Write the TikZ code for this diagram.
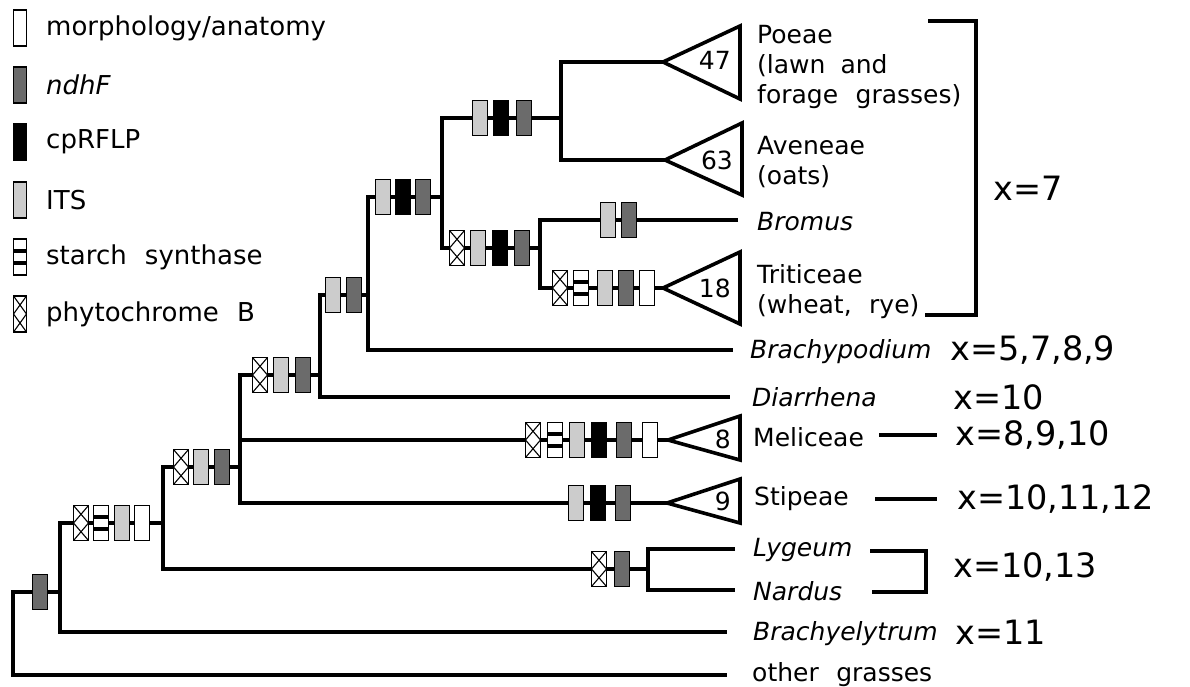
\documentclass[tikz,border=0pt]{standalone}
\usepackage{fontspec}
\setmainfont{DejaVu Sans}
\begin{document}
\begin{tikzpicture}[x=1pt,y=-1pt,
  br/.style={line width=3.8pt, line join=miter},
  tri/.style={line width=3.6pt, line join=miter},
  mk/.style={draw, line width=1.7pt, minimum width=15pt, minimum height=35pt, inner sep=0pt, outer sep=0pt},
  mkmorph/.style={mk, fill=white},
  mkndhf/.style={mk, fill=black!58},
  mkcp/.style={mk, fill=black},
  mkits/.style={mk, fill=black!20},
  mkstarch/.style={mk, fill=white, path picture={
      \fill[black] ([yshift=-8.2pt]path picture bounding box.west) rectangle ([yshift=-3.6pt]path picture bounding box.east);
      \fill[black] ([yshift=3.6pt]path picture bounding box.west) rectangle ([yshift=8.2pt]path picture bounding box.east);}},
  mkphy/.style={mk, fill=white, path picture={
      \draw[line width=1.1pt] (path picture bounding box.north west) -- (path picture bounding box.east) -- (path picture bounding box.south west);
      \draw[line width=1.1pt] (path picture bounding box.north east) -- (path picture bounding box.west) -- (path picture bounding box.south east);}},
  lab/.style={font=\fontsize{25}{30}\selectfont, inner sep=0pt, align=left},
  leg/.style={font=\fontsize{26}{30}\selectfont, inner sep=0pt},
  ilab/.style={lab, font=\fontsize{25}{30}\selectfont\itshape},
  xl/.style={font=\fontsize{33.5}{36}\selectfont, inner sep=0pt},
  num/.style={font=\fontsize{25}{30}\selectfont, inner sep=0pt, anchor=east}]
\useasboundingbox (0,0) rectangle (1190,686);

% ---------- legend ----------
\foreach \s/\y/\t [count=\i] in {mkmorph/28/morphology\slash anatomy, mkndhf/85/\textit{ndhF}, mkcp/142/cpRFLP, mkits/200/ITS, mkstarch/257/starch\hspace{0.7em}synthase, mkphy/314/phytochrome\hspace{0.7em}B}{
  \node[\s, minimum width=13pt, minimum height=36pt] (lg\i) at (20,\y) {};
  \node[leg, anchor=west] (lt\i) at (46,\y) {\t};
}

% ---------- internal nodes and tips ----------
\coordinate (r0t) at (13,592);
\coordinate (othertip) at (727,675);
\coordinate (n1) at (60,592);   \coordinate (n1t) at (60,523);
\coordinate (bytip) at (727,632);
\coordinate (n2) at (163,523);  \coordinate (n2t) at (163,467);
\coordinate (nln) at (648,569); \coordinate (nlnt) at (648,549);
\coordinate (lygtip) at (735,549); \coordinate (nardtip) at (735,590);
\coordinate (n3) at (240,467);  \coordinate (n3t) at (240,375); \coordinate (n3m) at (240,440);
\coordinate (meliapex) at (668,440); \coordinate (stiapex) at (667,503);
\coordinate (n4) at (320,375);  \coordinate (n4t) at (320,295);
\coordinate (diartip) at (730,397);
\coordinate (n5) at (368,295);  \coordinate (n5t) at (368,197);
\coordinate (brachytip) at (733,350);
\coordinate (n6) at (442,197);  \coordinate (n6t) at (442,118);
\coordinate (n7) at (540,248);  \coordinate (n7t) at (540,220);
\coordinate (bromtip) at (738,220); \coordinate (tritapex) at (663,288);
\coordinate (n8) at (561,118);  \coordinate (n8t) at (561,62);
\coordinate (poeapex) at (663,62); \coordinate (aveapex) at (665,160);

% ---------- branches ----------
\draw[br] (n1) -- (r0t) |- (othertip);
\draw[br] (n2) -- (n1t) |- (bytip);
\draw[br] (n3) -- (n2t) |- (nln);
\draw[br] (lygtip) -- (nlnt) |- (nardtip);
\draw[br] (n4) -- (n3t) |- (stiapex);
\draw[br] (n3m) -- (meliapex);
\draw[br] (n5) -- (n4t) |- (diartip);
\draw[br] (n6) -- (n5t) |- (brachytip);
\draw[br] (n8) -- (n6t) |- (n7);
\draw[br] (bromtip) -- (n7t) |- (tritapex);
\draw[br] (poeapex) -- (n8t) |- (aveapex);

% ---------- collapsed clades ----------
\draw[tri] (poeapex) -- (740,26) -- (740,99) -- cycle;
\draw[tri] (aveapex) -- (742,123) -- (742,195) -- cycle;
\draw[tri] (tritapex) -- (740,252) -- (740,324) -- cycle;
\draw[tri] (meliapex) -- (740,416) -- (740,460) -- cycle;
\draw[tri] (stiapex) -- (740,479) -- (740,523) -- cycle;
\node[num] (c47) at (731,60) {47};
\node[num] (c63) at (733,160) {63};
\node[num] (c18) at (731,288) {18};
\node[num] (c8) at (731,439) {8};
\node[num] (c9) at (731,501) {9};

% ---------- character markers ----------
\node[mkndhf] (m1a) at (40,592) {};
\foreach \s/\x [count=\i] in {mkphy/81, mkstarch/101, mkits/122, mkmorph/142}
  \node[\s] (m2\i) at (\x,523) {};
\foreach \s/\x [count=\i] in {mkphy/181, mkits/201, mkndhf/222}
  \node[\s] (m3\i) at (\x,467) {};
\foreach \s/\x [count=\i] in {mkphy/260, mkits/281, mkndhf/303}
  \node[\s] (m4\i) at (\x,375) {};
\foreach \s/\x [count=\i] in {mkits/333, mkndhf/354}
  \node[\s] (m5\i) at (\x,295) {};
\foreach \s/\x [count=\i] in {mkits/383, mkcp/403, mkndhf/423}
  \node[\s] (m6\i) at (\x,197) {};
\foreach \s/\x [count=\i] in {mkits/480, mkcp/501, mkndhf/524}
  \node[\s] (m7\i) at (\x,118) {};
\foreach \s/\x [count=\i] in {mkphy/457, mkits/478, mkcp/500, mkndhf/522}
  \node[\s] (m8\i) at (\x,248) {};
\foreach \s/\x [count=\i] in {mkits/608, mkndhf/629}
  \node[\s] (m9\i) at (\x,220) {};
\foreach \s/\x [count=\i] in {mkphy/560, mkstarch/581, mkits/605, mkndhf/626, mkmorph/647}
  \node[\s] (m10\i) at (\x,288) {};
\foreach \s/\x [count=\i] in {mkphy/533, mkstarch/555, mkits/577, mkcp/599, mkndhf/624, mkmorph/650}
  \node[\s] (m11\i) at (\x,440) {};
\foreach \s/\x [count=\i] in {mkits/576, mkcp/598, mkndhf/623}
  \node[\s] (m12\i) at (\x,503) {};
\foreach \s/\x [count=\i] in {mkphy/599, mkndhf/622}
  \node[\s] (m13\i) at (\x,569) {};

% ---------- taxon labels ----------
\node[lab, anchor=west] (poeae) at (757,67) {Poeae\\(lawn\hspace{0.6em}and\\forage\hspace{0.7em}grasses)};
\node[lab, anchor=west] (aveneae) at (757,162) {Aveneae\\(oats)};
\node[ilab, anchor=west] (bromus) at (757,222) {Bromus};
\node[lab, anchor=west] (triticeae) at (757,292) {Triticeae\\(wheat,\hspace{0.7em}rye)};
\node[ilab, anchor=west] (brachypodium) at (750,352) {Brachypodium};
\node[ilab, anchor=west] (diarrhena) at (752,397) {Diarrhena};
\node[lab, anchor=west] (meliceae) at (753,437) {Meliceae};
\node[lab, anchor=west] (stipeae) at (754,499) {Stipeae};
\node[ilab, anchor=west] (lygeum) at (753,550) {Lygeum};
\node[ilab, anchor=west] (nardus) at (753,591) {Nardus};
\node[ilab, anchor=west] (brachyelytrum) at (753,634) {Brachyelytrum};
\node[lab, anchor=west] (other) at (752,675) {other\hspace{0.7em}grasses};

% ---------- chromosome base numbers ----------
\coordinate (bkA) at (928,21);  \coordinate (bkB) at (976,21);
\coordinate (bkC) at (976,315); \coordinate (bkD) at (925,315);
\draw[br] (bkA) -- (bkB) -- (bkC) -- (bkD);
\coordinate (lnA) at (870,551); \coordinate (lnB) at (926,551);
\coordinate (lnC) at (926,592); \coordinate (lnD) at (872,592);
\draw[br] (lnA) -- (lnB) -- (lnC) -- (lnD);
\coordinate (mdA) at (879,435); \coordinate (mdB) at (937,435);
\draw[br] (mdA) -- (mdB);
\coordinate (sdA) at (875,499); \coordinate (sdB) at (937,499);
\draw[br] (sdA) -- (sdB);

\node[xl, anchor=west] (x7) at (993,188) {x=7};
\node[xl, anchor=west] (x5789) at (950,350) {x=5,7,8,9};
\node[xl, anchor=west] (x10) at (953,397) {x=10};
\node[xl, anchor=west] (x8910) at (955,435) {x=8,9,10};
\node[xl, anchor=west] (x101112) at (957,499) {x=10,11,12};
\node[xl, anchor=west] (x1013) at (953,567) {x=10,13};
\node[xl, anchor=west] (x11) at (955,632) {x=11};
\end{tikzpicture}
\end{document}
